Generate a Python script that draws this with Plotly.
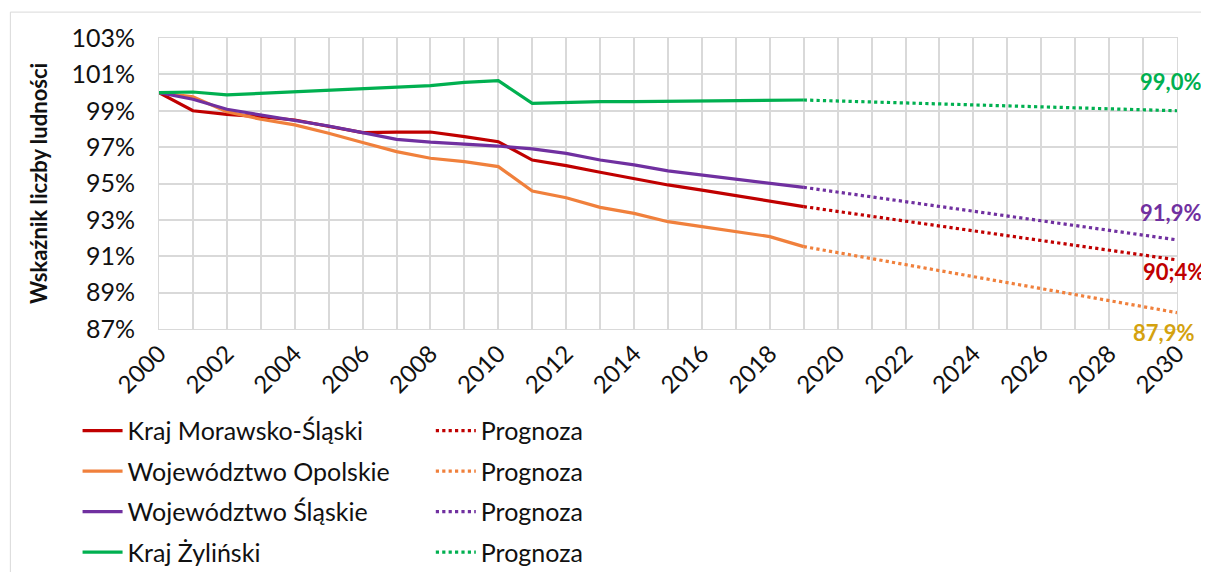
import plotly.graph_objects as go

# lata i dane historyczne (wskaźnik liczby ludności, 2000 = 100%)
years = list(range(2000, 2020))

morawsko_slaski = [100.0, 99.0, 98.8, 98.67, 98.49, 98.15, 97.8, 97.83, 97.83, 97.58,
                   97.3, 96.29, 95.98, 95.62, 95.29, 94.92, 94.64, 94.33, 94.04, 93.73]
opolskie = [100.0, 99.77, 98.95, 98.53, 98.22, 97.76, 97.25, 96.75, 96.39, 96.2,
            95.93, 94.59, 94.22, 93.69, 93.36, 92.9, 92.63, 92.35, 92.08, 91.53]
slaskie = [100.0, 99.63, 99.08, 98.77, 98.49, 98.16, 97.8, 97.43, 97.27, 97.16,
           97.06, 96.9, 96.66, 96.29, 96.02, 95.69, 95.47, 95.23, 95.01, 94.79]
zylinski = [100.0, 100.03, 99.87, 99.96, 100.05, 100.14, 100.21, 100.29, 100.38, 100.56,
            100.65, 99.41, 99.46, 99.5, 99.5, 99.52, 99.54, 99.57, 99.57, 99.59]

# prognoza: od ostatniego roku danych do 2030 (końce linii)
forecast_years = [2019, 2030]
forecast_end = [90.8, 87.9, 91.9, 99.0]
end_labels = ['90;4%', '87,9%', '91,9%', '99,0%']

names = ['Kraj Morawsko-Śląski', 'Województwo Opolskie', 'Województwo Śląskie', 'Kraj Żyliński']
series = [morawsko_slaski, opolskie, slaskie, zylinski]
colors = ['#C00000', '#F0803C', '#7030A0', '#00B050']
label_colors = ['#C00000', '#D4A20F', '#7030A0', '#00B050']

FONT = 'Lato, Carlito, Calibri, sans-serif'

fig = go.Figure()

for i, (name, vals, col) in enumerate(zip(names, series, colors)):
    fig.add_trace(go.Scatter(
        x=years, y=vals, mode='lines', name=name,
        line=dict(color=col, width=3.2),
        legend='legend', legendgroup=f'h{i}'
    ))

for i, (vals, end, col) in enumerate(zip(series, forecast_end, colors)):
    fig.add_trace(go.Scatter(
        x=forecast_years, y=[vals[-1], end], mode='lines', name='Prognoza',
        line=dict(color=col, width=3.2, dash='dot'),
        legend='legend2', legendgroup=f'p{i}'
    ))

# etykiety wartości prognozy na 2030
label_shift = [(-3, -12), (-14, -20), (-7, 27), (-7, 29)]
for end, txt, col, (dx, dy) in zip(forecast_end, end_labels, label_colors, label_shift):
    fig.add_annotation(
        x=2030, y=end, text=f'<b>{txt}</b>', showarrow=False,
        xanchor='center', yanchor='middle', xshift=dx, yshift=dy,
        font=dict(family=FONT, size=22, color=col)
    )

legend_style = dict(
    font=dict(family=FONT, size=25, color='#111111'),
    bgcolor='rgba(0,0,0,0)', orientation='v',
    xanchor='left', yanchor='top', tracegroupgap=5,
    itemwidth=40
)

fig.update_layout(
    width=1209, height=590,
    plot_bgcolor='white', paper_bgcolor='white',
    margin=dict(l=151, r=40, t=30, b=269),
    font=dict(family=FONT, color='#111111'),
    xaxis=dict(
        range=[2000, 2030], dtick=2, tick0=2000, tickangle=-45,
        tickfont=dict(size=24), showgrid=True, gridcolor='#D9D9D9', gridwidth=1.5,
        minor=dict(dtick=1, showgrid=True, gridcolor='#D9D9D9', gridwidth=1.5),
        showline=True, linecolor='#D9D9D9', mirror=True, zeroline=False, ticks='',
        automargin=False
    ),
    yaxis=dict(
        range=[87, 103], dtick=2, tick0=87, ticksuffix='%',
        tickfont=dict(size=25), showgrid=True, gridcolor='#D9D9D9', gridwidth=1.5,
        showline=True, linecolor='#D9D9D9', mirror=True, zeroline=False,
        ticklabelstandoff=18, automargin=False,
        title=dict(text='<b>Wskaźnik liczby ludności</b>', font=dict(size=22), standoff=17)
    ),
    legend=dict(x=-0.08, y=-0.271, **legend_style),
    legend2=dict(x=0.267, y=-0.271, **legend_style),
    shapes=[dict(type='rect', xref='paper', yref='paper',
                 x0=-0.146, x1=1.1, y0=-0.95, y1=1.089,
                 line=dict(color='#D9D9D9', width=1))]
)

fig.write_html('out.html')
